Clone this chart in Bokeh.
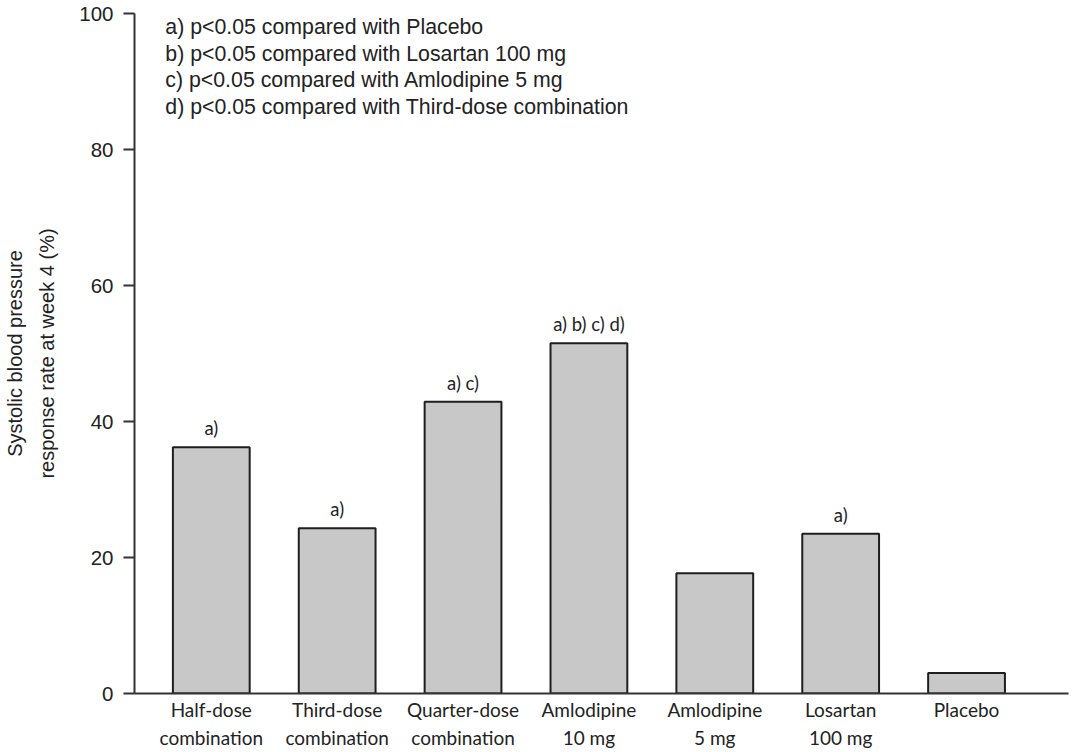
from bokeh.plotting import figure
from bokeh.models import FixedTicker, ColumnDataSource, Range1d
from bokeh.embed import file_html
from bokeh.resources import INLINE
from bokeh.core.properties import value

groups = ["Half-dose\ncombination", "Third-dose\ncombination", "Quarter-dose\ncombination",
          "Amlodipine\n10 mg", "Amlodipine\n5 mg", "Losartan\n100 mg", "Placebo"]
rates = [36.2, 24.3, 42.9, 51.5, 17.7, 23.5, 3.0]
marks = ["a)", "a)", "a) c)", "a) b) c) d)", "", "a)", ""]
notes = ["a) p<0.05 compared with Placebo",
         "b) p<0.05 compared with Losartan 100 mg",
         "c) p<0.05 compared with Amlodipine 5 mg",
         "d) p<0.05 compared with Third-dose combination"]
y_ticks = [0, 20, 40, 60, 80, 100]
y_title = "Systolic blood pressure\nresponse rate at week 4 (%)"

pos = list(range(len(groups)))
src = ColumnDataSource(dict(x=pos, top=rates, mark=marks))

p = figure(width=1079, height=752, x_range=Range1d(-0.61, 6.81), y_range=Range1d(0, 100),
           output_backend="svg", toolbar_location=None,
           min_border_left=134, min_border_right=11, min_border_top=13, min_border_bottom=59)
p.outline_line_color = None
p.grid.visible = False
p.background_fill_color = "white"
p.border_fill_color = "white"

p.vbar(x="x", top="top", bottom=0, width=0.61, source=src,
       fill_color="#c8c8c8", line_color="#1e1e1e", line_width=2)

p.text(x="x", y="top", text="mark", source=src, text_align="center", text_baseline="bottom",
       y_offset=-8, text_font=value("Lato"), text_font_size="18.5px", text_color="#222222")

# significance notes
nsrc = ColumnDataSource(dict(x=[-0.365] * len(notes),
                             y=[98.0 - 3.92 * i for i in range(len(notes))],
                             t=notes))
p.text(x="x", y="y", text="t", source=nsrc, text_align="left", text_baseline="middle",
       text_font=value("Liberation Sans"), text_font_size="21.3px", text_color="#222222")

# x axis
xa = p.xaxis[0]
xa.ticker = FixedTicker(ticks=pos)
xa.major_label_overrides = {i: g for i, g in enumerate(groups)}
xa.major_tick_line_color = None
xa.minor_tick_line_color = None
xa.axis_line_color = "#333333"
xa.axis_line_width = 2
xa.major_label_text_font = "Lato"
xa.major_label_text_font_size = "19px"
xa.major_label_text_color = "#222222"
xa.major_label_text_line_height = 1.25
xa.major_label_standoff = -2

# y axis
ya = p.yaxis[0]
ya.ticker = FixedTicker(ticks=y_ticks)
ya.minor_tick_line_color = None
ya.major_tick_in = 0
ya.major_tick_out = 11
ya.major_tick_line_color = "#333333"
ya.major_tick_line_width = 2
ya.axis_line_color = "#333333"
ya.axis_line_width = 2
ya.major_label_text_font = "Liberation Sans"
ya.major_label_text_font_size = "20.5px"
ya.major_label_text_color = "#222222"
ya.major_label_standoff = 10
ya.axis_label = y_title
ya.axis_label_text_font = "Liberation Sans"
ya.axis_label_text_font_size = "20px"
ya.axis_label_text_font_style = "normal"
ya.axis_label_text_color = "#222222"
ya.axis_label_text_line_height = 1.45
ya.axis_label_standoff = 18

open("out.html", "w").write(file_html(p, INLINE))
